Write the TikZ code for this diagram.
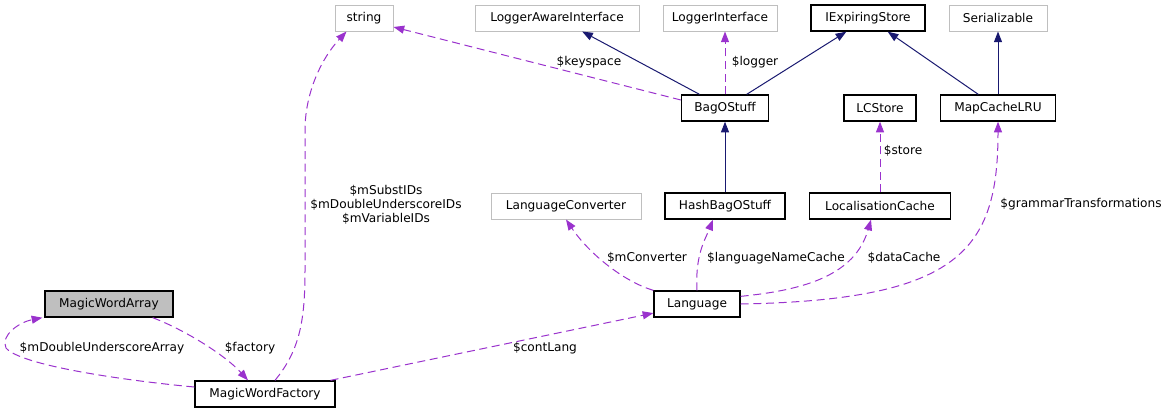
\documentclass[tikz,border=0pt]{standalone}
\usepackage{fontspec}
\setmainfont{DejaVu Sans}
\usetikzlibrary{arrows.meta,calc}
\definecolor{inhcol}{HTML}{191970}
\definecolor{relcol}{HTML}{9A32CD}
\definecolor{extgray}{HTML}{BFBFBF}
\definecolor{curgray}{HTML}{BFBFBF}
\begin{document}
\begin{tikzpicture}[x=0.75pt,y=-0.75pt,
  box/.style={draw=black,line width=1pt,font=\fontsize{9.1}{10}\selectfont,minimum height=19.5pt,inner xsep=2pt,inner ysep=0pt},
  extbox/.style={box,draw=extgray,line width=0.75pt},
  curbox/.style={box,fill=curgray},
  inh/.style={draw=inhcol,line width=0.75pt,-{Triangle[length=8pt,width=6pt]}},
  rel/.style={draw=relcol,line width=0.75pt,dash pattern=on 6pt off 3.5pt,-{Triangle[length=8pt,width=6pt]}},
  lbl/.style={font=\fontsize{9.1}{10.5}\selectfont,align=center,inner sep=0pt}]
\useasboundingbox (0,0) rectangle (1173,412);
% top row
\node[extbox, minimum width=43.5pt] (str) at (364,18) {string};
\node[extbox, minimum width=123pt] (lai) at (557,18) {LoggerAwareInterface};
\node[extbox, minimum width=85.5pt] (li) at (720,18) {LoggerInterface};
\node[box, minimum width=85.5pt] (ies) at (868,18) {IExpiringStore};
\node[extbox, minimum width=73.5pt] (ser) at (998,18) {Serializable};
% second row
\node[box, minimum width=65.25pt] (bag) at (725,108) {BagOStuff};
\node[box, minimum width=54pt] (lcs) at (880,108) {LCStore};
\node[box, minimum width=86.25pt] (mcl) at (998,108) {MapCacheLRU};
% third row
\node[extbox, minimum width=112.5pt] (lconv) at (566,206) {LanguageConverter};
\node[box, minimum width=90pt] (hbag) at (725,206) {HashBagOStuff};
\node[box, minimum width=105.75pt] (lcache) at (880,206) {LocalisationCache};
% bottom
\node[box, minimum width=64.5pt] (lang) at (697,304) {Language};
\node[curbox, minimum width=96pt] (mwa) at (109,304) {MagicWordArray};
\node[box, minimum width=105pt] (mwf) at (265,394) {MagicWordFactory};
% inheritance
\draw[inh] (bag) -- (lai);
\draw[inh] (bag) -- (ies);
\draw[inh] (mcl) -- (ies);
\draw[inh] (mcl) -- (ser);
\draw[inh] (hbag) -- (bag);
% usage
\draw[rel] (bag.north) -- ($(li.south)+(5,0)$);
\draw[rel] ($(bag.west)+(0,-8)$) -- ($(str.east)+(0,9)$);
\draw[rel] (lcache) -- (lcs);
\draw[rel] (mwf) -- (lang);
\draw[rel] (lang.north west) .. controls (625,282) and (590,255) .. (lconv.south);
\draw[rel] (lang.north) .. controls (695,255) and (705,240) .. ($(hbag.south)+(-12,0)$);
\draw[rel] ($(lang.north east)+(0,6)$) .. controls (805,290) and (855,275) .. ($(lcache.south)+(-9,0)$);
\draw[rel] (lang.east) .. controls (960,300) and (998,250) .. (mcl.south);
\draw[rel] ($(mwa.south east)+(-21,0)$) .. controls (185,330) and (225,355) .. ($(mwf.north)+(-17,0)$);
\draw[rel] ($(mwf.west)+(0,-7)$) .. controls (120,380) and (20,365) .. (6,348)
  .. controls (0,335) and (20,322) .. ($(mwa.south west)+(-2,0)$);
\draw[rel] ($(mwf.north)+(10,0)$) .. controls (300,350) and (305,320) .. (305,270) -- (305,130)
  .. controls (305,95) and (320,60) .. ($(str.south west)+(12,0)$);
% labels
\node[lbl] (lkeyspace) at (589,62) {\$keyspace};
\node[lbl] (llogger) at (755,62) {\$logger};
\node[lbl] (lstore) at (903,151) {\$store};
\node[lbl] (lconverter) at (647,258) {\$mConverter};
\node[lbl] (lnamecache) at (776,258) {\$languageNameCache};
\node[lbl] (ldatacache) at (904,258) {\$dataCache};
\node[lbl] (lgrammar) at (1081,204) {\$grammarTransformations};
\node[lbl] (lcontlang) at (545,348) {\$contLang};
\node[lbl] (lfactory) at (250,348) {\$factory};
\node[lbl] (ldua) at (102,348) {\$mDoubleUnderscoreArray};
\node[lbl] (lids) at (386,205) {\$mSubstIDs\\\$mDoubleUnderscoreIDs\\\$mVariableIDs};
\end{tikzpicture}
\end{document}
